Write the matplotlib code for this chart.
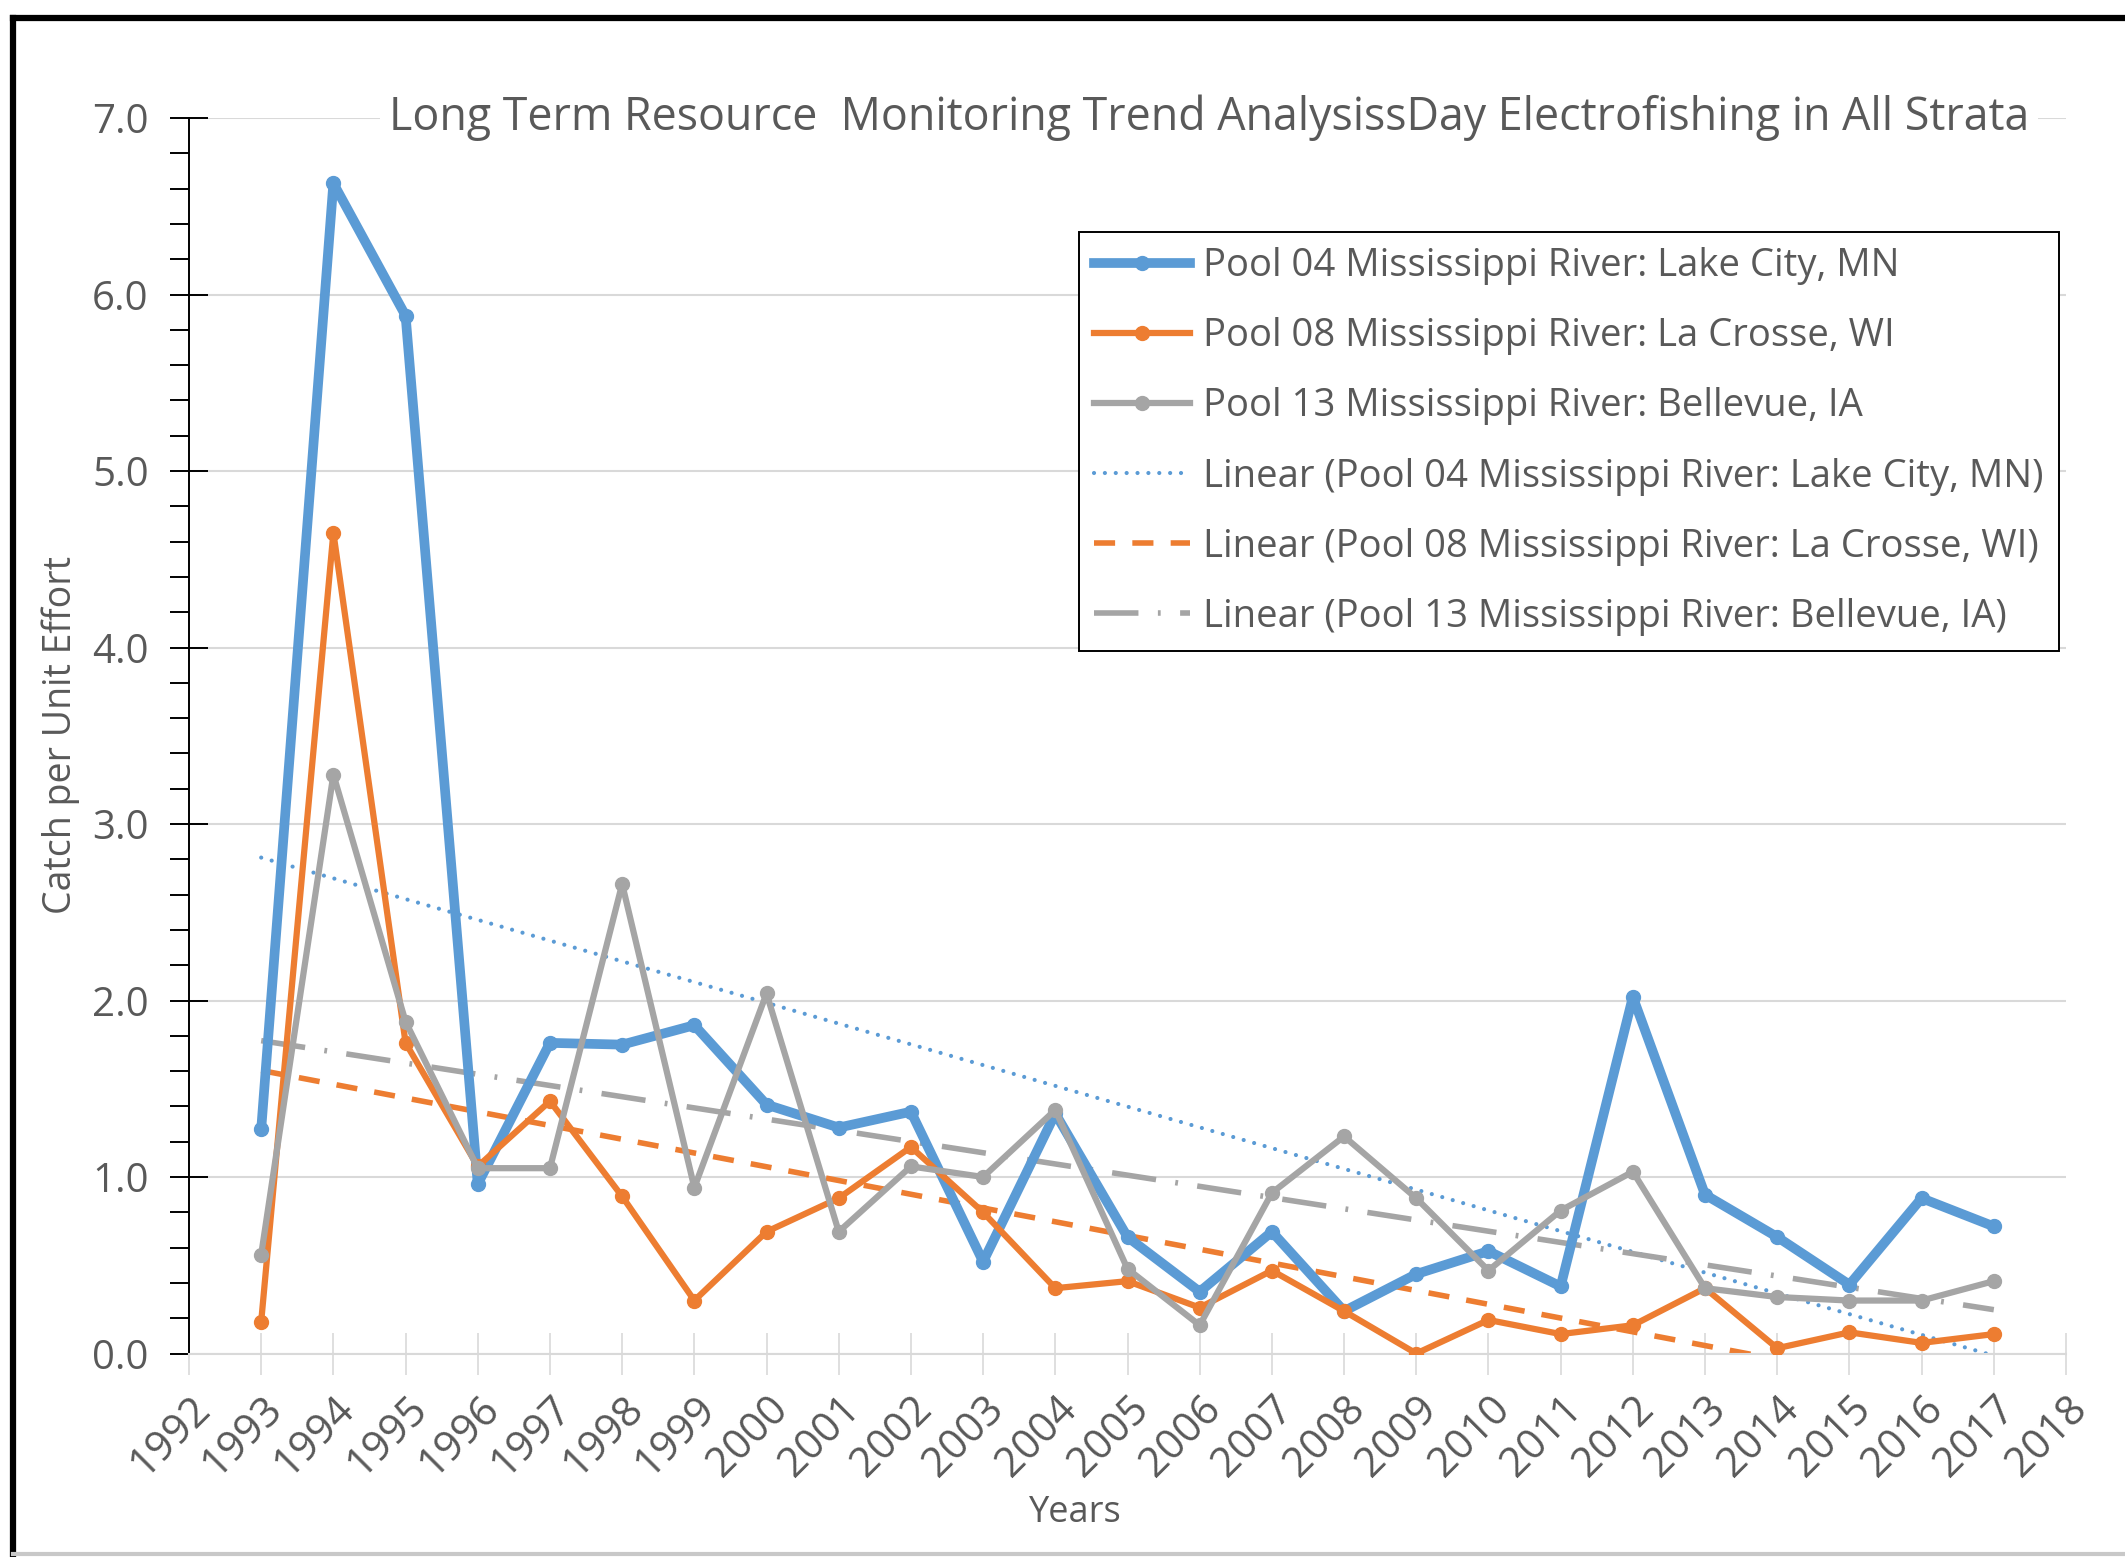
import numpy as np
import matplotlib
matplotlib.use("Agg")
import matplotlib.pyplot as plt
import matplotlib.transforms as mtransforms
from matplotlib.lines import Line2D
from matplotlib.ticker import MultipleLocator

plt.rcParams['font.family'] = ['Open Sans', 'DejaVu Sans']

years = list(range(1993, 2018))
pool04 = [1.27, 6.63, 5.88, 0.96, 1.76, 1.75, 1.86, 1.41, 1.28, 1.37, 0.52, 1.36, 0.66,
          0.35, 0.69, 0.24, 0.45, 0.58, 0.38, 2.02, 0.90, 0.66, 0.39, 0.88, 0.72]
pool08 = [0.18, 4.65, 1.76, 1.06, 1.43, 0.89, 0.30, 0.69, 0.88, 1.17, 0.80, 0.37, 0.41,
          0.26, 0.47, 0.24, 0.00, 0.19, 0.11, 0.16, 0.37, 0.03, 0.12, 0.06, 0.11]
pool13 = [0.56, 3.28, 1.88, 1.05, 1.05, 2.66, 0.94, 2.04, 0.69, 1.06, 1.00, 1.38, 0.48,
          0.16, 0.91, 1.23, 0.88, 0.47, 0.81, 1.03, 0.37, 0.32, 0.30, 0.30, 0.41]
labels = ["Pool 04 Mississippi River: Lake City, MN",
          "Pool 08 Mississippi River: La Crosse, WI",
          "Pool 13 Mississippi River: Bellevue, IA"]
tick_years = list(range(1992, 2019))

title = "Long Term Resource  Monitoring Trend AnalysissDay Electrofishing in All Strata"

BLUE, ORANGE, GRAY = "#5B9BD5", "#ED7D31", "#A5A5A5"
TXT = "#595959"
GRID = "#D9D9D9"

W, H = 2125, 1557
fig = plt.figure(figsize=(W / 100, H / 100), dpi=100)
ax = fig.add_axes([189 / W, 1 - 1353.5 / H, (2066 - 189) / W, (1353.5 - 118) / H])

x = np.array(years, dtype=float)
series = [(pool04, BLUE, 7.0, 10), (pool08, ORANGE, 4.5, 10), (pool13, GRAY, 4.5, 10)]
handles = []
for (vals, col, lw, ms), lab in zip(series, labels):
    h, = ax.plot(x, vals, color=col, lw=lw, marker='o', ms=ms, label=lab,
                 solid_joinstyle='round', zorder=3)
    handles.append(h)

# linear trendlines
styles = [(BLUE, 3.0, (0, (0.01, 2.6)), 'round'),
          (ORANGE, 4.0, (0, (3.8, 3.1)), 'butt'),
          (GRAY, 4.0, (0, (8, 3.5, 0.5, 3.5)), 'butt')]
for (vals, _, _, _), (col, lw, ls, cap), lab in zip(series, styles, labels):
    k, b = np.polyfit(x, np.array(vals), 1)
    h, = ax.plot(x, k * x + b, color=col, lw=lw, linestyle=ls, dash_capstyle=cap,
                 label="Linear (" + lab + ")", zorder=2)
    handles.append(h)

ax.set_xlim(1992, 2018)
ax.set_ylim(0, 7)
ax.set_xticks(tick_years)
ax.set_xticklabels([str(t) for t in tick_years], rotation=45, ha='right',
                   rotation_mode='anchor', fontsize=30, color=TXT)
shift = mtransforms.ScaledTranslation(-9 / 100, 0, fig.dpi_scale_trans)
for lbl in ax.get_xticklabels():
    lbl.set_transform(lbl.get_transform() + shift)
ax.set_yticks(np.arange(0, 7.01, 1.0))
ax.set_yticklabels([f"{v:.1f}" for v in np.arange(0, 7.01, 1.0)], fontsize=29, color=TXT)
ax.yaxis.set_minor_locator(MultipleLocator(0.2))
ax.tick_params(axis='y', which='major', direction='inout', length=28, width=1.4,
               color='black', pad=15)
ax.tick_params(axis='y', which='minor', direction='out', length=14, width=1.4, color='black')
ax.tick_params(axis='x', which='major', direction='inout', length=30, width=1.2,
               color=GRID, pad=10)
ax.grid(axis='y', color=GRID, lw=1.5, zorder=0)
for s in ['top', 'right']:
    ax.spines[s].set_visible(False)
ax.spines['left'].set_color('black')
ax.spines['left'].set_linewidth(1.4)
ax.spines['bottom'].set_color(GRID)
ax.spines['bottom'].set_linewidth(1.5)

fig.text(61 / W, 1 - 735 / H, "Catch per Unit Effort", rotation=90, ha='center', va='center',
         fontsize=27, color=TXT)
fig.text(1075 / W, 1 - 1513 / H, "Years", ha='center', va='center', fontsize=26, color=TXT)
fig.text(1209 / W, 1 - 118 / H, title, ha='center', va='center', fontsize=32.2, color=TXT,
         bbox=dict(facecolor='white', edgecolor='none', pad=6), zorder=5)

leg = ax.legend(handles=handles, loc='upper left', bbox_to_anchor=(1079 / W, 1 - 232 / H),
                bbox_transform=fig.transFigure, fontsize=27.5, frameon=True, fancybox=False,
                edgecolor='black', framealpha=1, borderpad=0.4, labelspacing=0.84,
                handlelength=2.5, handletextpad=0.35, borderaxespad=0)
leg.get_frame().set_linewidth(1.4)
for t in leg.get_texts():
    t.set_color(TXT)

# outer frame
fig.add_artist(Line2D([13 / W, 1], [1 - 18 / H, 1 - 18 / H], color='black', lw=4.5,
                      transform=fig.transFigure))
fig.add_artist(Line2D([13 / W, 13 / W], [0, 1 - 18 / H], color='black', lw=4.5,
                      transform=fig.transFigure))
fig.add_artist(Line2D([13 / W, 1], [3 / H, 3 / H], color='#C8C8C8', lw=3,
                      transform=fig.transFigure))

fig.savefig("out.png", dpi=100, facecolor='white')
